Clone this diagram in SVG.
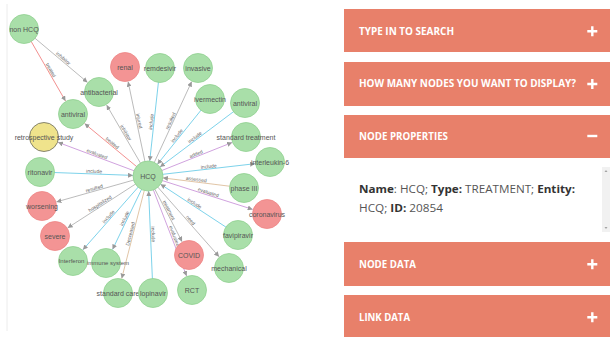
<svg xmlns="http://www.w3.org/2000/svg" width="610" height="337" viewBox="0 0 610 337">
<style>
.e{stroke-width:0.8;fill:none;marker-end:url(#ah)}
.gray{stroke:#aaaaaa}.cyan{stroke:#5cc6e4}.red{stroke:#ef7474}.pur{stroke:#c48ad6}.tan{stroke:#d9b68f}
.el{font-family:"Liberation Sans",Arial,sans-serif;font-size:5px;fill:#666;text-anchor:middle}
.n circle{stroke-width:0.8}
.g circle{fill:#a9dfa9;stroke:#90d190}
.r circle{fill:#f39494;stroke:#ee8585}
.y circle{fill:#efe38c;stroke:#6a6a5a}
.n text{font-family:"Liberation Sans",Arial,sans-serif;font-size:7px;fill:#555;text-anchor:middle}
.n text.sm{font-size:6px}
.bar{fill:#e8806a}
.bt{font-family:"Open Sans","Liberation Sans",sans-serif;font-weight:700;font-size:10.3px;fill:#ffffff}
.pm{stroke:#ffffff;stroke-width:2.4;fill:none}
.pt{font-family:"Open Sans","Liberation Sans",sans-serif;font-size:10.5px;fill:#555}
.pt .b{font-weight:700;fill:#333}
</style>
<defs>
<marker id="ah" viewBox="0 0 10 10" refX="10" refY="5" markerWidth="5" markerHeight="5" markerUnits="userSpaceOnUse" orient="auto">
<path d="M0,0 L10,5 L0,10 z" fill="#999"/>
</marker>
</defs>
<rect x="0" y="0" width="610" height="337" fill="#ffffff"/>
<line x1="7" y1="4" x2="7" y2="331" stroke="#ececec" stroke-width="1"/>
<g id="connectors">
<line class="e gray" x1="24" y1="29" x2="87.5" y2="82.4"/>
<line class="e red" x1="24" y1="29" x2="65.5" y2="101"/>
<line class="e gray" x1="148" y1="176" x2="106.6" y2="105"/>
<line class="e gray" x1="148" y1="176" x2="128.1" y2="81.7"/>
<line class="e cyan" x1="160" y1="68" x2="149.7" y2="161.1"/>
<line class="e gray" x1="148" y1="176" x2="191.7" y2="81.6"/>
<line class="e cyan" x1="210" y1="99" x2="157.4" y2="164.3"/>
<line class="e cyan" x1="245" y1="103" x2="160" y2="167"/>
<line class="e pur" x1="148" y1="176" x2="232.1" y2="142.5"/>
<line class="e cyan" x1="148" y1="176" x2="255.1" y2="163.7"/>
<line class="e tan" x1="244" y1="188" x2="162.9" y2="177.9"/>
<line class="e pur" x1="148" y1="176" x2="252.7" y2="209.4"/>
<line class="e cyan" x1="238" y1="235" x2="160.5" y2="184.2"/>
<line class="e gray" x1="148" y1="176" x2="219.1" y2="256.7"/>
<line class="e gray" x1="148" y1="176" x2="182.1" y2="241.7"/>
<line class="e pur" x1="148" y1="176" x2="186.6" y2="276"/>
<line class="e cyan" x1="153" y1="293" x2="148.6" y2="191"/>
<line class="e tan" x1="148" y1="176" x2="121.7" y2="278.5"/>
<line class="e cyan" x1="148" y1="176" x2="112.5" y2="249.5"/>
<line class="e cyan" x1="148" y1="176" x2="82.9" y2="249.8"/>
<line class="e gray" x1="148" y1="176" x2="67.6" y2="227.9"/>
<line class="e gray" x1="148" y1="176" x2="56.4" y2="201.9"/>
<line class="e cyan" x1="40" y1="172" x2="133" y2="175.4"/>
<line class="e pur" x1="148" y1="176" x2="58" y2="142.3"/>
<line class="e red" x1="148" y1="176" x2="84.6" y2="123.6"/>
<g id="connector-labels">
<text class="el" transform="translate(61.5,60.5) rotate(40)" y="-1">inhibitor</text>
<text class="el" transform="translate(48.5,71.5) rotate(60)" y="-1">treated</text>
<text class="el" transform="translate(123.5,134) rotate(59.7)" y="-1">inhibitor</text>
<text class="el" transform="translate(136.5,121.5) rotate(78.1)" y="-1">injured</text>
<text class="el" transform="translate(154,122) rotate(-83.7)" y="-1">include</text>
<text class="el" transform="translate(173,122) rotate(-65.2)" y="-1">resulted</text>
<text class="el" transform="translate(179,137.5) rotate(-51.2)" y="-1">include</text>
<text class="el" transform="translate(196.5,139.5) rotate(-37)" y="-1">include</text>
<text class="el" transform="translate(197,156.5) rotate(-21.7)" y="-1">added</text>
<text class="el" transform="translate(209,169) rotate(-6.5)" y="-1">include</text>
<text class="el" transform="translate(196,182) rotate(7.1)" y="-1">assessed</text>
<text class="el" transform="translate(207.5,195) rotate(17.7)" y="-1">evaluated</text>
<text class="el" transform="translate(193,205.5) rotate(33.2)" y="-1">include</text>
<text class="el" transform="translate(188.5,222) rotate(48.6)" y="-1">need</text>
<text class="el" transform="translate(166.5,211.5) rotate(62.6)" y="-1">treatment</text>
<text class="el" transform="translate(172,237) rotate(68.9)" y="-1">evaluated</text>
<text class="el" transform="translate(150.5,234.5) rotate(87.6)" y="-1">include</text>
<text class="el" transform="translate(133,234.5) rotate(-75.6)" y="-1">Decreased</text>
<text class="el" transform="translate(127,219.5) rotate(-64.2)" y="-1">include</text>
<text class="el" transform="translate(110.5,218.5) rotate(-48.6)" y="-1">include</text>
<text class="el" transform="translate(101.5,206) rotate(-32.8)" y="-1">hospitalized</text>
<text class="el" transform="translate(95,191) rotate(-15.8)" y="-1">resulted</text>
<text class="el" transform="translate(94,174) rotate(2.1)" y="-1">include</text>
<text class="el" transform="translate(96,156.5) rotate(20.6)" y="-1">evaluated</text>
<text class="el" transform="translate(110.5,145) rotate(39.6)" y="-1">treated</text>
</g>
</g>
<g id="node-nonhcq" class="n g"><circle cx="24" cy="29" r="14.5"/><text x="24" y="31.5">non HCQ</text></g>
<g id="node-antibacterial" class="n g"><circle cx="99" cy="92" r="14.5"/><text x="99" y="94.5">antibacterial</text></g>
<g id="node-renal" class="n r"><circle cx="125" cy="67" r="14.5"/><text x="125" y="69.5">renal</text></g>
<g id="node-remdesivir" class="n g"><circle cx="160" cy="68" r="14.5"/><text x="160" y="70.5">remdesivir</text></g>
<g id="node-antiviral-1" class="n g"><circle cx="73" cy="114" r="14.5"/><text x="73" y="116.5">antiviral</text></g>
<g id="node-invasive" class="n g"><circle cx="198" cy="68" r="14.5"/><text x="198" y="70.5">invasive</text></g>
<g id="node-ivermectin" class="n g"><circle cx="210" cy="99" r="14.5"/><text x="210" y="101.5">ivermectin</text></g>
<g id="node-antiviral-2" class="n g"><circle cx="245" cy="103" r="14.5"/><text x="245" y="105.5">antiviral</text></g>
<g id="node-standard-treatment" class="n g"><circle cx="246" cy="137" r="14.5"/><text x="246" y="139.5">standard treatment</text></g>
<g id="node-interleukin6" class="n g"><circle cx="270" cy="162" r="14.5"/><text x="270" y="164.5">interleukin-6</text></g>
<g id="node-phase3" class="n g"><circle cx="244" cy="188" r="14.5"/><text x="244" y="190.5">phase III</text></g>
<g id="node-coronavirus" class="n r"><circle cx="267" cy="214" r="14.5"/><text x="267" y="216.5">coronavirus</text></g>
<g id="node-retrospective" class="n y"><circle cx="44" cy="137" r="14.5"/><text x="44" y="139.5">retrospective study</text></g>
<g id="node-ritonavir" class="n g"><circle cx="40" cy="172" r="14.5"/><text x="40" y="174.5">ritonavir</text></g>
<g id="node-worsening" class="n r"><circle cx="42" cy="206" r="14.5"/><text x="42" y="208.5">worsening</text></g>
<g id="node-severe" class="n r"><circle cx="55" cy="236" r="14.5"/><text x="55" y="238.5">severe</text></g>
<g id="node-interferon" class="n g"><circle cx="73" cy="261" r="14.5"/><text class="sm" x="71.5" y="263.2">Interferon</text></g>
<g id="node-immune" class="n g"><circle cx="106" cy="263" r="14.5"/><text class="sm" x="108" y="265.2">immune system</text></g>
<g id="node-standard-care" class="n g"><circle cx="118" cy="293" r="14.5"/><text x="118" y="295.5">standard care</text></g>
<g id="node-lopinavir" class="n g"><circle cx="153" cy="293" r="14.5"/><text x="153" y="295.5">lopinavir</text></g>
<g id="node-favipiravir" class="n g"><circle cx="238" cy="235" r="14.5"/><text x="238" y="237.5">favipiravir</text></g>
<g id="node-covid" class="n r"><circle cx="189" cy="255" r="14.5"/><text x="189" y="257.5">COVID</text></g>
<g id="node-mechanical" class="n g"><circle cx="229" cy="268" r="14.5"/><text x="229" y="270.5">mechanical</text></g>
<g id="node-rct" class="n g"><circle cx="192" cy="290" r="14.5"/><text x="192" y="292.5">RCT</text></g>
<g id="node-hcq" class="n g"><circle cx="148" cy="176" r="15"/><text x="148" y="178.5">HCQ</text></g>
<g id="panel">
<rect class="bar" x="344" y="9" width="266" height="43"/>
<text class="bt" x="359" y="35.3" textLength="95" lengthAdjust="spacingAndGlyphs">TYPE IN TO SEARCH</text>
<path class="pm" d="M587.3,31.3 H597.3 M592.3,26.3 V36.3"/>
<rect class="bar" x="344" y="62" width="266" height="44"/>
<text class="bt" x="359" y="87.3" textLength="217" lengthAdjust="spacingAndGlyphs">HOW MANY NODES YOU WANT TO DISPLAY?</text>
<path class="pm" d="M587.3,84 H597.3 M592.3,79 V89"/>
<rect class="bar" x="344" y="115" width="266" height="43"/>
<text class="bt" x="359" y="140" textLength="89" lengthAdjust="spacingAndGlyphs">NODE PROPERTIES</text>
<path class="pm" d="M587.3,136 H597.3"/>
<text class="pt" x="359" y="193.3" textLength="216" lengthAdjust="spacingAndGlyphs"><tspan class="b">Name</tspan>: HCQ; <tspan class="b">Type:</tspan> TREATMENT; <tspan class="b">Entity:</tspan></text>
<text class="pt" x="359" y="211.7" textLength="84" lengthAdjust="spacingAndGlyphs">HCQ; <tspan class="b">ID:</tspan> 20854</text>
<rect x="602" y="167" width="8" height="65" fill="#f1f1f1"/>
<path d="M604.5,172 L606,170 L607.5,172 z M604.5,227 L606,229 L607.5,227 z" fill="#a3a3a3"/>
<rect class="bar" x="344" y="242" width="266" height="44"/>
<text class="bt" x="359" y="267.7" textLength="57" lengthAdjust="spacingAndGlyphs">NODE DATA</text>
<path class="pm" d="M587.3,264.3 H597.3 M592.3,259.3 V269.3"/>
<rect class="bar" x="344" y="295" width="266" height="42"/>
<text class="bt" x="359" y="320.7" textLength="51" lengthAdjust="spacingAndGlyphs">LINK DATA</text>
<path class="pm" d="M587.3,317.3 H597.3 M592.3,312.3 V322.3"/>
</g>
</svg>
